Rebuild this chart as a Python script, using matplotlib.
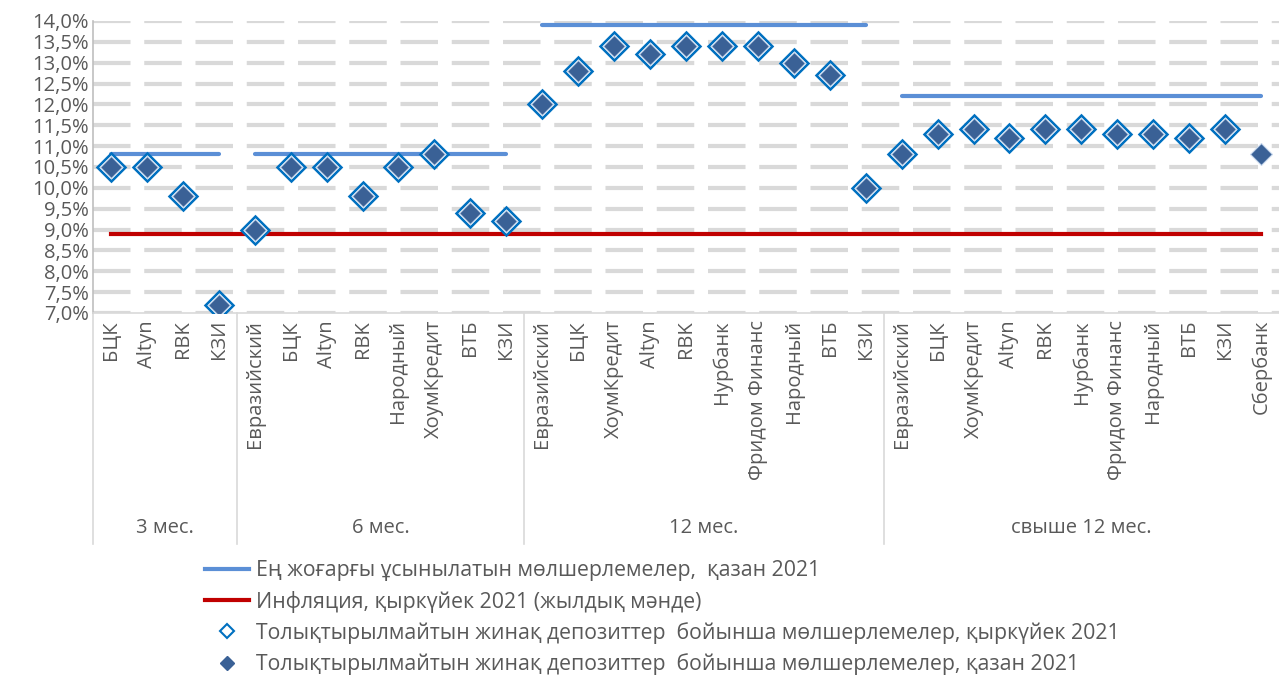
import numpy as np
import matplotlib.pyplot as plt
from matplotlib.lines import Line2D
from matplotlib.ticker import FuncFormatter, MultipleLocator

plt.rcParams['font.family'] = ['Open Sans', 'DejaVu Sans']

# группы сроков и банки
groups = ['3 мес.', '6 мес.', '12 мес.', 'свыше 12 мес.']
banks_3 = ['БЦК', 'Altyn', 'RBK', 'КЗИ']
banks_6 = ['Евразийский', 'БЦК', 'Altyn', 'RBK', 'Народный', 'ХоумКредит', 'ВТБ', 'КЗИ']
banks_12 = ['Евразийский', 'БЦК', 'ХоумКредит', 'Altyn', 'RBK', 'Нурбанк',
            'Фридом Финанс', 'Народный', 'ВТБ', 'КЗИ']
banks_12p = ['Евразийский', 'БЦК', 'ХоумКредит', 'Altyn', 'RBK', 'Нурбанк',
             'Фридом Финанс', 'Народный', 'ВТБ', 'КЗИ', 'Сбербанк']

# ставки, % (октябрь)
oct_3 = [10.5, 10.5, 9.8, 7.2]
oct_6 = [9.0, 10.5, 10.5, 9.8, 10.5, 10.8, 9.4, 9.2]
oct_12 = [12.0, 12.8, 13.4, 13.2, 13.4, 13.4, 13.4, 13.0, 12.7, 10.0]
oct_12p = [10.8, 11.3, 11.4, 11.2, 11.4, 11.4, 11.3, 11.3, 11.2, 11.4, 10.8]

# ставки, % (сентябрь)
sep_3 = [10.5, 10.5, 9.8, 7.2]
sep_6 = [9.0, 10.5, 10.5, 9.8, 10.5, 10.8, 9.4, 9.2]
sep_12 = [12.0, 12.8, 13.4, 13.2, 13.4, 13.4, 13.4, 13.0, 12.7, 10.0]
sep_12p = [10.8, 11.3, 11.4, 11.2, 11.4, 11.4, 11.3, 11.3, 11.2, 11.4, np.nan]

# максимальные рекомендуемые ставки по группам
max_rates = [10.8, 10.8, 13.9, 12.2]
inflation = 8.9

lbl_max = 'Ең жоғарғы ұсынылатын мөлшерлемелер,  қазан 2021'
lbl_inf = 'Инфляция, қыркүйек 2021 (жылдық мәнде)'
lbl_sep = 'Толықтырылмайтын жинақ депозиттер  бойынша мөлшерлемелер, қыркүйек 2021'
lbl_oct = 'Толықтырылмайтын жинақ депозиттер  бойынша мөлшерлемелер, қазан 2021'

bank_groups = [banks_3, banks_6, banks_12, banks_12p]
labels = sum(bank_groups, [])
oct_all = np.array(oct_3 + oct_6 + oct_12 + oct_12p)
sep_all = np.array(sep_3 + sep_6 + sep_12 + sep_12p)
x = np.arange(len(labels))

blue_line = '#5B8FD6'
red_line = '#C00000'
dark_blue = '#3A6196'
edge_blue = '#0070C0'
txt = '#595959'
fs = 14.5

fig = plt.figure(figsize=(12.79, 6.75), dpi=100)
ax = fig.add_axes([0.0727, 0.5363, 0.9273, 0.4326])

ax.set_ylim(7.0, 14.0)
ax.set_xlim(-0.5, len(labels) - 0.5)
ax.yaxis.set_major_locator(MultipleLocator(0.5))
ax.yaxis.set_major_formatter(FuncFormatter(lambda v, p: f'{v:.1f}%'.replace('.', ',')))

ax.grid(axis='y', color='#D9D9D9', linewidth=3, linestyle=(0, (9, 3.3)))
ax.set_axisbelow(True)
for s in ['top', 'right']:
    ax.spines[s].set_visible(False)
ax.spines['left'].set_color('#BFBFBF')
ax.spines['bottom'].set_color('#D9D9D9')
ax.spines['left'].set_linewidth(1.2)
ax.spines['bottom'].set_linewidth(1.2)

# линия инфляции
ax.plot([x[0], x[-1]], [inflation, inflation], color=red_line, lw=3, zorder=2)

# максимальные ставки
start = 0
bounds = []
for names, mr in zip(bank_groups, max_rates):
    gx = x[start:start + len(names)]
    ax.plot([gx[0], gx[-1]], [mr, mr], color=blue_line, lw=3, solid_capstyle='round', zorder=2)
    bounds.append((start, start + len(names)))
    start += len(names)

ax.plot(x, sep_all, linestyle='none', marker='D', ms=14.5, mfc='white', mec=edge_blue, mew=1.8, zorder=3)
ax.plot(x, oct_all, linestyle='none', marker='D', ms=11.5, mfc=dark_blue, mec='#C9D9EE', mew=0.8, zorder=4)

ax.set_xticks(x)
ax.set_xticklabels(labels, rotation=90, fontsize=fs, color=txt)
ax.tick_params(axis='x', length=0, pad=5)
ax.tick_params(axis='y', length=0, labelsize=fs, labelcolor=txt, pad=3)

# подписи групп и разделители
trans = ax.get_xaxis_transform()
for (a, b), g in zip(bounds, groups):
    ax.text((a + b - 1) / 2, -0.736, g, transform=trans, ha='center', va='center',
            fontsize=fs, color=txt)
    ax.plot([a - 0.5, a - 0.5], [0, -0.79], transform=trans, color='#D9D9D9',
            lw=1.2, clip_on=False)

handles = [
    Line2D([], [], color=blue_line, lw=3),
    Line2D([], [], color=red_line, lw=3),
    Line2D([], [], linestyle='none', marker='D', ms=7, mfc='white', mec=edge_blue, mew=1.5),
    Line2D([], [], linestyle='none', marker='D', ms=7, mfc=dark_blue, mec=dark_blue),
]
leg = fig.legend(handles, [lbl_max, lbl_inf, lbl_sep, lbl_oct], loc='upper left',
                 bbox_to_anchor=(0.16, 0.17), frameon=False, fontsize=15.3,
                 handlelength=2.1, handletextpad=0.3, labelspacing=0.44,
                 borderaxespad=0, borderpad=0)
for t in leg.get_texts():
    t.set_color(txt)

fig.savefig('out.png', dpi=100)
